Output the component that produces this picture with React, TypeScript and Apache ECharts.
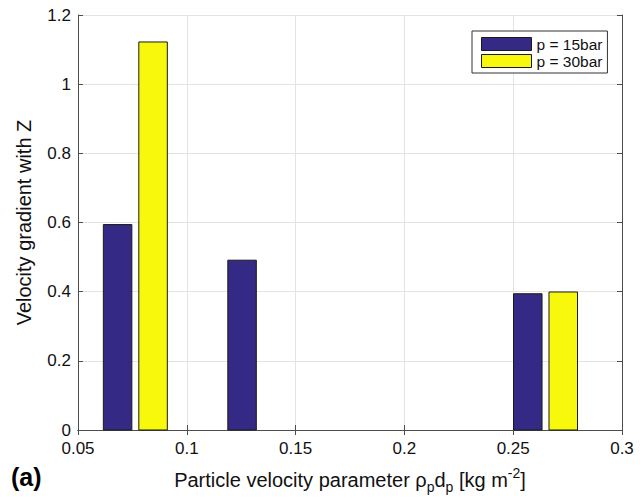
import React, { useEffect, useRef } from "react";
import * as echarts from "echarts";

const seriesNames = ["p = 15bar", "p = 30bar"];
const x15 = [0.0682, 0.1254, 0.2567];
const y15 = [0.594, 0.491, 0.394];
const x30 = [0.0845, 0.273];
const y30 = [1.122, 0.399];
const barWidthData = 0.0131;

const colors = ["#342a85", "#f8f80c"];
const FONT = "Liberation Sans, Arial, sans-serif";

function makeSeries(name: string, xs: number[], ys: number[], color: string) {
  return {
    type: "custom",
    name,
    data: xs.map((x, i) => [x, ys[i]]),
    itemStyle: { color, borderColor: "#1a1a1a", borderWidth: 1 },
    renderItem: (params: any, api: any) => {
      const x = api.value(0);
      const y = api.value(1);
      const p1 = api.coord([x - barWidthData / 2, y]);
      const p2 = api.coord([x + barWidthData / 2, 0]);
      return {
        type: "rect",
        shape: { x: p1[0], y: p1[1], width: p2[0] - p1[0], height: p2[1] - p1[1] },
        style: { fill: color, stroke: "#1a1a1a", lineWidth: 1 },
      };
    },
  };
}

export default function App() {
  const ref = useRef<HTMLDivElement>(null);
  useEffect(() => {
    if (!ref.current) return;
    const chart = echarts.init(ref.current, null, { renderer: "svg" });
    const axisLine = { show: true, lineStyle: { color: "#4d4d4d", width: 1 } };
    const tick = { show: true, inside: true, length: 5, lineStyle: { color: "#4d4d4d" } };
    const lbl = { color: "#111", fontSize: 17, lineHeight: 14, fontFamily: FONT };
    chart.setOption({
      animation: false,
      textStyle: { fontFamily: FONT },
      grid: { left: 78, top: 15, width: 544, height: 415, containLabel: false, outerBoundsMode: "none" },
      legend: {
        orient: "vertical",
        left: 472,
        top: 31,
        data: seriesNames.map((n, i) => ({ name: n, icon: "rect", itemStyle: { color: colors[i], borderColor: "#1a1a1a", borderWidth: 1 } })),
        itemWidth: 50,
        itemHeight: 13,
        itemGap: 1,
        padding: [5, 5, 4, 9],
        borderColor: "#333",
        borderWidth: 1,
        backgroundColor: "#fff",
        textStyle: { fontSize: 15.5, color: "#111", fontFamily: FONT },
      },
      xAxis: [
        {
          type: "value",
          min: 0.05,
          max: 0.3,
          interval: 0.05,
          position: "bottom",
          axisLine,
          axisTick: tick,
          axisLabel: { ...lbl, margin: 11, formatter: (v: number) => String(+v.toFixed(2)) },
          splitLine: { show: true, lineStyle: { color: "#e3e3e3" } },
          name: "Particle velocity parameter ρ{sub|p}d{sub|p} [kg m{sup|-2}]",
          nameLocation: "middle",
          nameGap: 36,
          nameTextStyle: {
            fontSize: 20,
            color: "#111",
            fontFamily: FONT,
            rich: {
              sub: { fontSize: 14, fontFamily: FONT, color: "#111", padding: [14, 0, 0, 0] },
              sup: { fontSize: 14, fontFamily: FONT, color: "#111", padding: [0, 0, 14, 0] },
            },
          },
        },
        {
          type: "value",
          min: 0.05,
          max: 0.3,
          interval: 0.05,
          position: "top",
          axisLine,
          axisTick: tick,
          axisLabel: { show: false },
          splitLine: { show: false },
        },
      ],
      yAxis: [
        {
          type: "value",
          min: 0,
          max: 1.2,
          interval: 0.2,
          position: "left",
          axisLine,
          axisTick: tick,
          axisLabel: { ...lbl, margin: 7, formatter: (v: number) => String(+v.toFixed(1)) },
          splitLine: { show: true, lineStyle: { color: "#e3e3e3" } },
          name: "Velocity gradient with Z",
          nameLocation: "middle",
          nameGap: 44,
          nameTextStyle: { fontSize: 20, color: "#111", fontFamily: FONT },
        },
        {
          type: "value",
          min: 0,
          max: 1.2,
          interval: 0.2,
          position: "right",
          axisLine,
          axisTick: tick,
          axisLabel: { show: false },
          splitLine: { show: false },
        },
      ],
      graphic: [
        {
          type: "text",
          left: 11,
          top: 464,
          style: { text: "(a)", fontSize: 25, fontWeight: "bold", fontFamily: FONT, fill: "#000" },
        },
      ],
      series: [
        makeSeries(seriesNames[0], x15, y15, colors[0]),
        makeSeries(seriesNames[1], x30, y30, colors[1]),
      ],
    });
    return () => chart.dispose();
  }, []);
  return <div ref={ref} style={{ width: 644, height: 500, marginLeft: -8, marginTop: -8 }} />;
}
